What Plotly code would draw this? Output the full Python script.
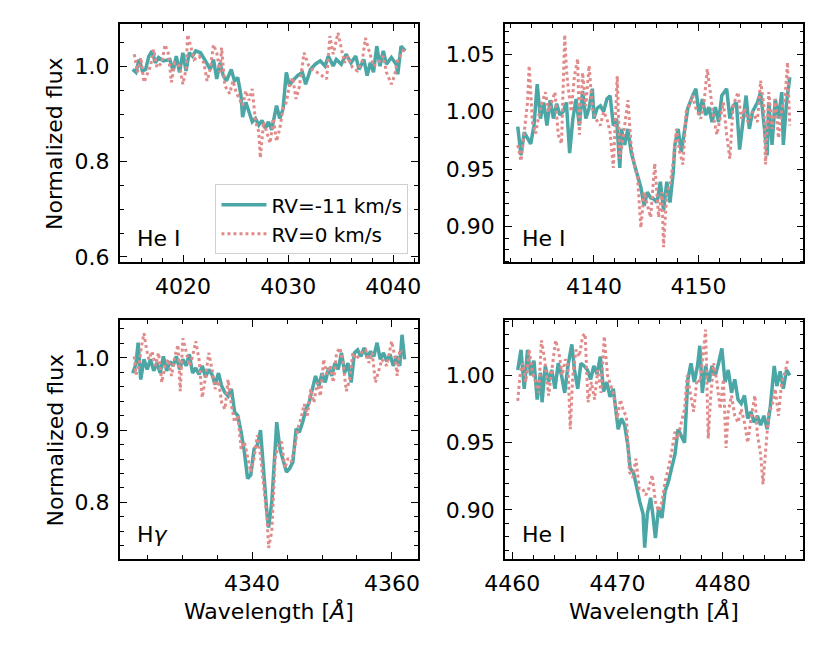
import plotly.graph_objects as go

# ---- He I 4026 ----
he4026_wl_rv11 = [4015.20, 4015.51, 4015.82, 4016.12, 4016.43, 4016.74, 4017.05, 4017.35, 4017.66, 4018.12,
                  4018.74, 4019.05, 4019.35, 4019.66, 4019.97, 4020.28, 4020.58, 4020.89, 4021.20, 4021.66,
                  4022.12, 4022.58, 4022.89, 4023.20, 4023.51, 4023.82, 4024.12, 4024.58, 4024.89, 4025.20,
                  4025.51, 4025.66, 4025.97, 4026.28, 4026.58, 4026.89, 4027.20, 4027.51, 4027.82, 4028.12,
                  4028.43, 4028.89, 4029.20, 4029.51, 4029.82, 4030.12, 4030.43, 4030.89, 4031.35, 4031.66,
                  4032.12, 4032.58, 4033.05, 4033.51, 4033.82, 4034.28, 4034.58, 4035.05, 4035.51, 4035.97,
                  4036.43, 4036.74, 4037.20, 4037.51, 4037.82, 4038.12, 4038.43, 4038.74, 4039.05, 4039.35,
                  4039.82, 4040.28, 4040.43, 4040.74, 4041.14]
he4026_fx_rv11 = [0.994, 0.988, 1.015, 0.991, 0.994, 1.022, 1.033, 1.008, 1.019, 1.012,
                  1.015, 0.991, 1.022, 0.988, 1.029, 0.991, 1.029, 1.022, 1.033, 1.029,
                  1.012, 0.994, 1.015, 0.974, 1.008, 0.981, 0.970, 0.994, 0.970, 0.977,
                  0.939, 0.894, 0.925, 0.905, 0.884, 0.891, 0.877, 0.887, 0.870, 0.884,
                  0.867, 0.918, 0.891, 0.911, 0.988, 0.960, 0.970, 0.981, 0.988, 0.963,
                  0.994, 1.005, 1.012, 1.001, 1.022, 1.001, 1.015, 1.005, 1.026, 1.008,
                  1.022, 0.994, 1.015, 0.981, 1.008, 0.988, 1.043, 1.001, 1.033, 1.005,
                  1.019, 1.005, 0.984, 1.043, 1.033]
he4026_wl_rv0 = [4015.35, 4015.66, 4015.97, 4016.28, 4016.58, 4016.89, 4017.20, 4017.51, 4017.97, 4018.28,
                 4018.58, 4018.89, 4019.20, 4019.66, 4019.97, 4020.28, 4020.43, 4020.74, 4021.05, 4021.51,
                 4021.97, 4022.28, 4022.58, 4022.89, 4023.20, 4023.51, 4023.66, 4023.97, 4024.43, 4024.74,
                 4025.05, 4025.35, 4025.66, 4025.97, 4026.28, 4026.58, 4026.89, 4027.20, 4027.35, 4027.66,
                 4027.97, 4028.28, 4028.58, 4028.89, 4029.20, 4029.51, 4029.82, 4030.12, 4030.43, 4030.74,
                 4031.05, 4031.51, 4031.97, 4032.28, 4032.74, 4033.20, 4033.66, 4033.97, 4034.28, 4034.74,
                 4035.05, 4035.35, 4035.66, 4036.12, 4036.58, 4037.05, 4037.35, 4037.66, 4038.12, 4038.58,
                 4039.05, 4039.35, 4039.82, 4040.12, 4040.43, 4040.89, 4041.05]
he4026_fx_rv0 = [1.026, 0.988, 1.019, 0.967, 0.984, 1.001, 1.036, 0.998, 1.008, 1.046,
                 1.029, 0.967, 1.008, 1.001, 0.963, 0.994, 1.067, 1.043, 1.015, 1.022,
                 1.008, 0.970, 0.994, 1.046, 1.029, 0.988, 1.040, 0.960, 0.943, 0.970,
                 0.946, 0.932, 0.918, 0.949, 0.929, 0.953, 0.884, 0.863, 0.808, 0.884,
                 0.863, 0.839, 0.891, 0.843, 0.870, 0.911, 0.925, 0.960, 0.977, 0.932,
                 0.956, 1.029, 1.001, 0.994, 0.988, 0.981, 0.974, 1.064, 1.026, 1.071,
                 1.036, 1.008, 1.022, 0.998, 0.991, 1.012, 1.060, 1.036, 1.001, 1.008,
                 1.022, 0.988, 0.963, 0.981, 1.015, 1.029, 1.040]

# ---- He I 4144 ----
he4144_wl_rv11 = [4132.72, 4133.03, 4133.34, 4133.65, 4133.96, 4134.27, 4134.58, 4134.89, 4135.20, 4135.51,
                  4135.82, 4136.13, 4136.44, 4136.75, 4137.06, 4137.37, 4137.68, 4137.99, 4138.30, 4138.61,
                  4138.92, 4139.23, 4139.54, 4139.85, 4140.00, 4140.31, 4140.62, 4140.93, 4141.24, 4141.55,
                  4141.86, 4142.17, 4142.48, 4142.63, 4142.94, 4143.25, 4143.56, 4143.87, 4144.18, 4144.49,
                  4144.80, 4145.11, 4145.42, 4145.73, 4146.04, 4146.35, 4146.66, 4146.97, 4147.28, 4147.59,
                  4147.74, 4148.05, 4148.36, 4148.67, 4148.98, 4149.44, 4149.75, 4150.06, 4150.37, 4150.68,
                  4150.99, 4151.30, 4151.61, 4151.92, 4152.23, 4152.69, 4153.00, 4153.31, 4153.62, 4153.93,
                  4154.24, 4154.55, 4154.86, 4155.17, 4155.63, 4155.94, 4156.25, 4156.56, 4156.72, 4157.03,
                  4157.34, 4157.65, 4157.96, 4158.11, 4158.42, 4158.73]
he4144_fx_rv11 = [0.987, 0.962, 0.982, 0.977, 0.972, 0.988, 1.024, 0.994, 1.008, 0.988,
                  1.010, 0.994, 1.007, 0.997, 1.000, 1.008, 0.964, 0.994, 1.011, 0.988,
                  1.018, 0.994, 1.003, 1.020, 0.994, 1.003, 1.005, 1.000, 1.011, 1.014,
                  0.988, 0.994, 0.951, 0.985, 0.971, 0.985, 0.965, 0.954, 0.945, 0.934,
                  0.918, 0.930, 0.925, 0.924, 0.921, 0.939, 0.914, 0.939, 0.921, 0.948,
                  0.971, 0.985, 0.965, 0.982, 1.003, 1.014, 1.020, 0.997, 1.011, 0.997,
                  1.004, 0.991, 1.004, 0.991, 1.014, 1.020, 0.994, 1.005, 1.008, 0.967,
                  0.994, 1.014, 0.985, 1.000, 1.008, 1.017, 0.990, 0.962, 1.008, 0.971,
                  1.011, 0.994, 1.017, 0.971, 1.008, 1.030]
he4144_wl_rv0 = [4132.72, 4133.03, 4133.34, 4133.65, 4133.81, 4134.12, 4134.43, 4134.74, 4135.05, 4135.36,
                 4135.67, 4135.98, 4136.28, 4136.59, 4136.90, 4137.21, 4137.37, 4137.52, 4137.83, 4138.14,
                 4138.45, 4138.61, 4138.92, 4139.23, 4139.54, 4139.85, 4140.15, 4140.62, 4140.93, 4141.24,
                 4141.55, 4141.86, 4142.01, 4142.23, 4142.48, 4142.79, 4143.25, 4143.56, 4143.87, 4144.18,
                 4144.49, 4144.80, 4145.11, 4145.42, 4145.82, 4146.19, 4146.50, 4146.66, 4146.97, 4147.28,
                 4147.59, 4147.89, 4148.20, 4148.51, 4148.82, 4149.13, 4149.44, 4149.75, 4150.22, 4150.53,
                 4150.84, 4151.15, 4151.46, 4151.76, 4152.07, 4152.38, 4152.69, 4153.00, 4153.31, 4153.78,
                 4154.09, 4154.40, 4154.71, 4155.17, 4155.63, 4155.94, 4156.25, 4156.41, 4156.72, 4157.03,
                 4157.34, 4157.65, 4157.96, 4158.27, 4158.51, 4158.73]
he4144_fx_rv0 = [0.971, 0.957, 0.982, 1.008, 1.040, 0.991, 0.981, 0.997, 1.008, 1.017,
                 1.000, 1.008, 1.017, 0.980, 0.972, 1.067, 1.037, 1.023, 1.000, 1.031,
                 1.046, 0.980, 1.034, 1.005, 1.040, 1.003, 0.994, 0.988, 1.000, 0.994,
                 0.982, 0.951, 0.982, 1.031, 0.959, 0.977, 1.010, 0.971, 0.954, 0.942,
                 0.899, 0.930, 0.919, 0.908, 0.955, 0.908, 0.930, 0.882, 0.930, 0.936,
                 0.957, 0.985, 0.965, 0.954, 1.000, 1.005, 1.014, 1.003, 0.994, 1.008,
                 1.037, 1.014, 0.994, 0.980, 0.994, 1.008, 0.980, 0.959, 1.005, 1.017,
                 0.994, 1.003, 0.991, 1.000, 0.991, 1.027, 1.005, 0.954, 1.017, 0.985,
                 1.011, 0.977, 1.003, 1.011, 1.043, 0.988]

# ---- H gamma ----
hg_wl_rv11 = [4322.92, 4323.38, 4323.70, 4324.07, 4324.54, 4325.00, 4325.46, 4325.93, 4326.39, 4326.85,
              4327.31, 4327.78, 4328.24, 4328.70, 4329.17, 4329.63, 4330.09, 4330.56, 4331.02, 4331.48,
              4331.94, 4332.41, 4332.87, 4333.33, 4333.80, 4334.26, 4334.72, 4335.19, 4335.65, 4336.11,
              4336.57, 4337.04, 4337.50, 4337.96, 4338.43, 4338.89, 4339.35, 4339.81, 4340.28, 4340.74,
              4341.20, 4341.67, 4342.13, 4342.36, 4342.82, 4343.29, 4343.52, 4343.98, 4344.44, 4344.91,
              4345.37, 4345.83, 4346.30, 4346.76, 4347.22, 4347.69, 4348.15, 4348.61, 4349.07, 4349.54,
              4350.00, 4350.46, 4350.93, 4351.39, 4351.85, 4352.31, 4352.78, 4353.24, 4353.70, 4354.17,
              4354.63, 4355.09, 4355.56, 4356.02, 4356.48, 4356.94, 4357.41, 4357.87, 4358.33, 4358.80,
              4359.26, 4359.72, 4360.19, 4360.65, 4361.11, 4361.44, 4361.81]
hg_fx_rv11 = [0.979, 0.991, 1.021, 0.970, 0.998, 0.984, 0.998, 0.982, 0.993, 0.979,
              1.002, 0.982, 0.995, 0.989, 1.002, 0.984, 0.998, 0.989, 1.005, 0.979,
              0.986, 0.977, 0.989, 0.973, 0.984, 0.977, 0.963, 0.979, 0.961, 0.952,
              0.947, 0.957, 0.925, 0.920, 0.897, 0.870, 0.833, 0.838, 0.874, 0.879,
              0.900, 0.833, 0.783, 0.765, 0.801, 0.874, 0.911, 0.874, 0.856, 0.842,
              0.847, 0.856, 0.902, 0.897, 0.911, 0.929, 0.938, 0.957, 0.975, 0.961,
              0.979, 0.966, 0.986, 0.975, 0.993, 0.984, 1.007, 0.979, 0.993, 0.966,
              1.007, 1.011, 1.002, 1.014, 1.000, 1.009, 1.002, 1.021, 0.998, 1.007,
              0.995, 1.005, 0.989, 1.002, 0.989, 1.032, 0.998]
hg_wl_rv0 = [4323.15, 4323.38, 4323.84, 4324.17, 4324.54, 4324.91, 4325.23, 4325.69, 4326.16, 4326.62,
             4327.08, 4327.55, 4328.01, 4328.47, 4328.94, 4329.40, 4329.72, 4330.09, 4330.56, 4331.02,
             4331.48, 4331.94, 4332.41, 4332.87, 4333.33, 4333.80, 4334.26, 4334.72, 4335.19, 4335.65,
             4336.11, 4336.57, 4337.04, 4337.50, 4337.96, 4338.43, 4338.89, 4339.35, 4339.81, 4340.28,
             4340.74, 4341.20, 4341.67, 4342.13, 4342.36, 4342.82, 4343.29, 4343.75, 4344.21, 4344.68,
             4345.14, 4345.60, 4346.06, 4346.53, 4346.99, 4347.45, 4347.92, 4348.38, 4348.84, 4349.31,
             4349.77, 4350.23, 4350.69, 4351.16, 4351.62, 4352.08, 4352.55, 4353.01, 4353.47, 4353.94,
             4354.40, 4354.86, 4355.56, 4356.25, 4356.71, 4357.18, 4357.64, 4358.10, 4358.56, 4359.26,
             4359.95, 4360.42, 4360.74, 4361.11, 4361.48]
hg_fx_rv0 = [1.002, 0.977, 0.989, 1.016, 1.034, 1.011, 0.998, 1.009, 0.989, 1.007,
             0.966, 0.989, 0.998, 0.975, 1.002, 1.018, 0.954, 1.027, 1.009, 0.989,
             1.002, 1.023, 0.998, 0.945, 0.973, 1.007, 0.984, 0.957, 0.968, 0.938,
             0.929, 0.970, 0.934, 0.911, 0.920, 0.874, 0.884, 0.861, 0.842, 0.861,
             0.893, 0.865, 0.820, 0.779, 0.737, 0.760, 0.861, 0.879, 0.884, 0.847,
             0.861, 0.856, 0.874, 0.902, 0.916, 0.936, 0.920, 0.957, 0.938, 0.966,
             0.947, 0.998, 0.977, 0.989, 0.966, 1.007, 1.014, 0.993, 0.954, 0.970,
             1.007, 0.998, 1.007, 1.011, 0.993, 1.007, 0.966, 0.984, 0.998, 0.989,
             1.023, 1.002, 0.975, 1.011, 1.009]

# ---- He I 4471 ----
he4471_wl_rv11 = [4460.52, 4460.83, 4461.14, 4461.45, 4461.75, 4462.06, 4462.37, 4462.68, 4462.83, 4463.14,
                  4463.45, 4463.75, 4464.06, 4464.37, 4464.68, 4464.98, 4465.29, 4465.66, 4465.91, 4466.22,
                  4466.52, 4466.83, 4467.14, 4467.45, 4467.75, 4468.06, 4468.37, 4468.68, 4468.98, 4469.29,
                  4469.60, 4469.91, 4470.06, 4470.37, 4470.68, 4470.98, 4471.20, 4471.51, 4471.82, 4472.12,
                  4472.43, 4472.58, 4472.83, 4473.14, 4473.35, 4473.60, 4473.91, 4474.22, 4474.52, 4474.83,
                  4475.14, 4475.45, 4475.75, 4476.06, 4476.37, 4476.68, 4476.98, 4477.29, 4477.60, 4477.82,
                  4478.06, 4478.37, 4478.68, 4478.98, 4479.29, 4479.60, 4479.91, 4480.22, 4480.52, 4480.83,
                  4481.14, 4481.45, 4481.75, 4482.06, 4482.37, 4482.68, 4482.98, 4483.29, 4483.60, 4483.91,
                  4484.22, 4484.52, 4484.89, 4485.14, 4485.45, 4485.75, 4486.06, 4486.37]
he4471_fx_rv11 = [1.004, 1.019, 0.990, 1.019, 1.000, 1.011, 0.982, 1.002, 0.980, 1.007,
                  0.995, 1.004, 0.990, 1.009, 1.000, 0.987, 1.007, 1.023, 1.004, 0.990,
                  1.009, 1.007, 1.004, 0.997, 1.007, 1.001, 1.014, 0.988, 0.995, 0.984,
                  0.990, 0.970, 0.960, 0.968, 0.963, 0.948, 0.931, 0.928, 0.916, 0.906,
                  0.897, 0.872, 0.897, 0.909, 0.897, 0.879, 0.902, 0.894, 0.914, 0.921,
                  0.931, 0.941, 0.960, 0.955, 0.950, 0.997, 1.009, 0.995, 1.007, 1.022,
                  0.987, 1.007, 0.995, 1.007, 1.000, 1.009, 1.020, 0.995, 1.004, 0.987,
                  0.997, 0.982, 0.979, 0.985, 0.968, 0.973, 0.965, 0.970, 0.963, 0.970,
                  0.960, 0.977, 1.007, 0.992, 1.003, 0.990, 1.004, 1.000]
he4471_wl_rv0 = [4460.52, 4460.74, 4460.98, 4461.29, 4461.60, 4461.91, 4462.22, 4462.52, 4462.77, 4463.08,
                 4463.45, 4463.82, 4464.12, 4464.43, 4464.74, 4465.05, 4465.29, 4465.51, 4465.75, 4466.06,
                 4466.37, 4466.68, 4466.92, 4467.20, 4467.51, 4467.82, 4468.12, 4468.43, 4468.74, 4469.05,
                 4469.35, 4469.66, 4469.97, 4470.28, 4470.58, 4470.83, 4471.14, 4471.45, 4471.75, 4472.06,
                 4472.37, 4472.68, 4472.98, 4473.29, 4473.60, 4473.91, 4474.22, 4474.52, 4474.83, 4475.14,
                 4475.45, 4475.75, 4476.06, 4476.37, 4476.62, 4476.92, 4477.23, 4477.54, 4477.85, 4478.15,
                 4478.37, 4478.62, 4478.83, 4479.14, 4479.45, 4479.75, 4480.06, 4480.31, 4480.52, 4480.83,
                 4481.14, 4481.45, 4481.75, 4482.06, 4482.37, 4482.68, 4483.05, 4483.29, 4483.60, 4483.82,
                 4484.06, 4484.37, 4484.68, 4484.98, 4485.29, 4485.60, 4485.91, 4486.22]
he4471_fx_rv0 = [0.981, 1.000, 1.009, 0.995, 1.019, 1.002, 0.995, 0.987, 1.026, 1.012,
                 0.985, 1.007, 1.026, 1.017, 1.000, 1.012, 1.007, 0.960, 1.000, 1.019,
                 1.014, 1.029, 1.031, 0.980, 0.995, 0.982, 1.004, 0.987, 1.029, 1.000,
                 0.992, 0.985, 0.968, 0.982, 0.973, 0.970, 0.928, 0.924, 0.938, 0.916,
                 0.916, 0.911, 0.916, 0.926, 0.906, 0.899, 0.906, 0.921, 0.931, 0.943,
                 0.958, 0.953, 0.965, 0.975, 1.000, 0.987, 0.973, 0.997, 0.995, 1.017,
                 1.034, 0.953, 0.982, 1.009, 0.995, 0.975, 0.997, 0.946, 0.973, 0.985,
                 0.970, 0.965, 0.975, 0.965, 0.950, 0.968, 0.985, 0.956, 0.941, 0.919,
                 0.946, 0.973, 0.977, 0.990, 0.970, 0.995, 1.002, 1.013]

TEAL = "#4ba6a6"
SALMON = "#e08a8a"
FONT = "DejaVu Sans"

# panel frames in paper coords (figure 830x664, no margins)
left_col = [101.7 / 830, 409 / 830]
right_col = [498.3 / 830, 805.7 / 830]
top_row = [1 - 265 / 664, 1 - 24 / 664]
bot_row = [1 - 565 / 664, 1 - 323.3 / 664]

panels = [
    dict(wl11=he4026_wl_rv11, fx11=he4026_fx_rv11, wl0=he4026_wl_rv0, fx0=he4026_fx_rv0,
         label="He I", xr=[4013.97, 4042.37], yr=[0.589, 1.090], xd=10, xm=2,
         yd=0.2, ym=0.05, yfmt=".1f", dx=left_col, dy=top_row),
    dict(wl11=he4144_wl_rv11, fx11=he4144_fx_rv11, wl0=he4144_wl_rv0, fx0=he4144_fx_rv0,
         label="He I", xr=[4131.49, 4160.03], yr=[0.869, 1.0765], xd=10, xm=2,
         yd=0.05, ym=0.01, yfmt=".2f", dx=right_col, dy=top_row),
    dict(wl11=hg_wl_rv11, fx11=hg_fx_rv11, wl0=hg_wl_rv0, fx0=hg_fx_rv0,
         label="H<i>γ</i>", xr=[4321.07, 4363.75], yr=[0.7215, 1.0526], xd=20, xm=5,
         yd=0.1, ym=0.02, yfmt=".1f", dx=left_col, dy=bot_row),
    dict(wl11=he4471_wl_rv11, fx11=he4471_fx_rv11, wl0=he4471_wl_rv0, fx0=he4471_fx_rv0,
         label="He I", xr=[4459.3, 4487.66], yr=[0.8635, 1.0412], xd=10, xm=2,
         yd=0.05, ym=0.01, yfmt=".2f", dx=right_col, dy=bot_row),
]

axis_common = dict(
    showline=True, linecolor="black", linewidth=1.6, mirror="allticks",
    ticks="inside", ticklen=7, tickwidth=1.4, tickcolor="black",
    showgrid=False, zeroline=False, ticklabelstandoff=4,
    tickfont=dict(family=FONT, size=22, color="black"),
)

fig = go.Figure()
annotations = []
for i, p in enumerate(panels, start=1):
    sfx = "" if i == 1 else str(i)
    fig.add_trace(go.Scatter(
        x=p["wl11"], y=p["fx11"], mode="lines", name="RV=-11 km/s",
        line=dict(color=TEAL, width=3.5), showlegend=(i == 1), legendrank=1,
        xaxis="x" + sfx, yaxis="y" + sfx))
    fig.add_trace(go.Scatter(
        x=p["wl0"], y=p["fx0"], mode="lines", name="RV=0 km/s",
        line=dict(color=SALMON, width=3, dash="dot"), showlegend=(i == 1), legendrank=2,
        xaxis="x" + sfx, yaxis="y" + sfx))
    fig.update_layout({
        "xaxis" + sfx: dict(axis_common, domain=p["dx"], range=p["xr"], anchor="y" + sfx,
                            tick0=0, dtick=p["xd"],
                            minor=dict(ticks="inside", ticklen=4, tickwidth=1.2, tickcolor="black",
                                       dtick=p["xm"], tick0=0, showgrid=False)),
        "yaxis" + sfx: dict(axis_common, domain=p["dy"], range=p["yr"], anchor="x" + sfx,
                            tick0=0, dtick=p["yd"], tickformat=p["yfmt"],
                            minor=dict(ticks="inside", ticklen=4, tickwidth=1.2, tickcolor="black",
                                       dtick=p["ym"], tick0=0, showgrid=False)),
    })
    annotations.append(dict(
        text=p["label"], xref="x" + sfx + " domain", yref="y" + sfx + " domain",
        x=0.05, y=0.04, xanchor="left", yanchor="bottom", showarrow=False,
        font=dict(family=FONT, size=22, color="black")))

# axis titles
for yc in [sum(top_row) / 2, sum(bot_row) / 2]:
    annotations.append(dict(text="Normalized flux", xref="paper", yref="paper", x=35 / 830, y=yc,
                            textangle=-90, showarrow=False, xanchor="center", yanchor="middle",
                            font=dict(family=FONT, size=22, color="black")))
for xc in [sum(left_col) / 2, sum(right_col) / 2]:
    annotations.append(dict(text="Wavelength [<i>Å</i>]", xref="paper", yref="paper", x=xc,
                            y=1 - 618 / 664, showarrow=False, xanchor="center", yanchor="middle",
                            font=dict(family=FONT, size=22, color="black")))

fig.update_layout(
    width=830, height=664,
    margin=dict(l=0, r=0, t=0, b=0),
    paper_bgcolor="white", plot_bgcolor="white",
    font=dict(family=FONT, size=22, color="black"),
    annotations=annotations,
    hovermode=False,
    legend=dict(x=399 / 830, y=1 - 257 / 664, xanchor="right", yanchor="bottom",
                bgcolor="rgba(255,255,255,0.8)", bordercolor="#d0d0d0", borderwidth=1,
                itemwidth=45,
                font=dict(family=FONT, size=20, color="black"), tracegroupgap=0),
)

# page margin off so the figure sits at the window's top-left corner
fig.write_html("out.html", config={"displayModeBar": False},
               post_script="document.body.style.margin='0';")
